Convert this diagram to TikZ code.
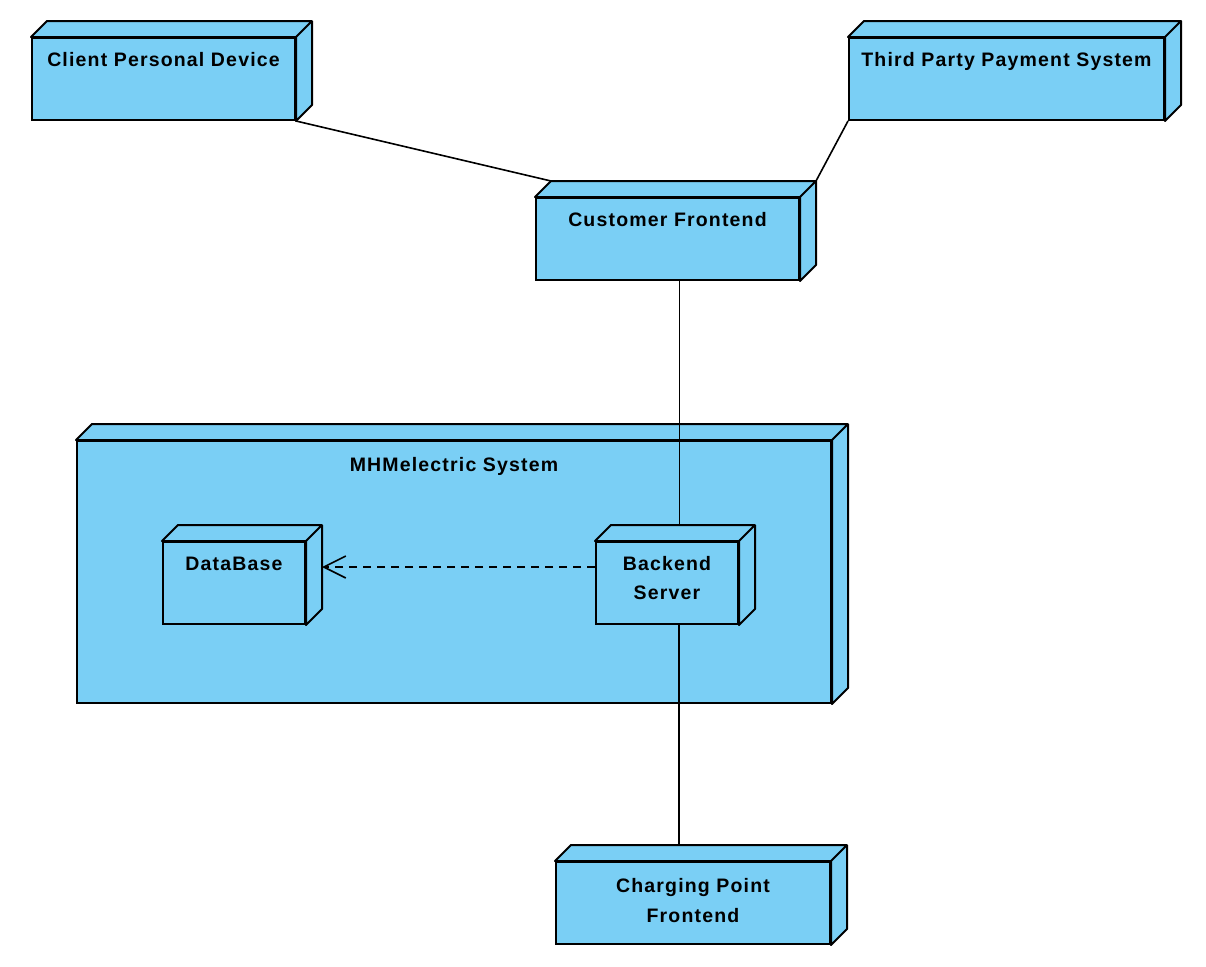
\documentclass[tikz,border=0pt]{standalone}
\usepackage{fontspec}
\setmainfont{Liberation Sans}[LetterSpace=6]
\usetikzlibrary{arrows.meta,backgrounds}
\definecolor{nodeblue}{HTML}{7ACFF5}

% 3d faces of a deployment node
\newcommand\nodefaces[1]{%
  \draw[depface] (#1.north west) -- ++(16,-16) -- ([shift={(16,-16)}]#1.north east)
    -- ([shift={(16,-16)}]#1.south east) -- (#1.south east) -- (#1.north east) -- cycle
    (#1.north east) -- ++(16,-16);}

\begin{document}
\begin{tikzpicture}[x=.5pt, y=-.5pt,
  depnode/.style={draw, fill=nodeblue, line width=1pt, anchor=north west, inner sep=0pt,
    align=center, font=\fontsize{9.75}{14.75}\selectfont\bfseries,
    text height=14pt, text depth=27pt},
  twoline/.style={text height=28.75pt, text depth=12.25pt},
  depface/.style={draw, fill=nodeblue, line width=1pt, line join=round},
  link/.style={line width=.8pt},
  usage/.style={line width=.8pt, dash pattern=on 4pt off 3pt,
    -{Straight Barb[length=11pt,width=11pt,line width=.8pt]}}]
\useasboundingbox (0,0) rectangle (1206,966);

\node[depnode, minimum width=131.5pt] (client) at (31,37) {Client Personal Device};
\node[depnode, minimum width=157.5pt] (payment) at (848,37) {Third Party Payment System};
\node[depnode, minimum width=131.5pt] (frontend) at (535,197) {Customer Frontend};
\node[depnode, minimum width=71pt] (database) at (162,541) {DataBase};
\node[depnode, twoline, minimum width=71pt] (backend) at (595,541) {Backend\\Server};
\node[depnode, twoline, minimum width=137pt, text height=30pt, text depth=11pt] (charging) at (555,861) {Charging Point\\Frontend};
\foreach \n in {client,payment,frontend,database,backend,charging}
  \nodefaces{\n};

\begin{pgfonlayer}{background}
\node[depnode, minimum width=377pt, text height=15pt, text depth=116pt] (mhm) at (76,440) {MHMelectric System};
\nodefaces{mhm}
\draw[link] (client.south east) -- ([shift={(16,-16)}]frontend.north west);
\draw[link] (payment.south west) -- ([shift={(16,-16)}]frontend.north east);
\draw[link] ([xshift=6pt]frontend.south) -- ([xshift=6pt]frontend.south |- backend.north);
\draw[link] ([xshift=6pt]backend.south) -- ([xshift=6pt]backend.south |- charging.north);
\end{pgfonlayer}

\draw[usage] ([shift={(0,-16)}]backend.west) -- ([shift={(16,-16)}]database.east);
\end{tikzpicture}
\end{document}
